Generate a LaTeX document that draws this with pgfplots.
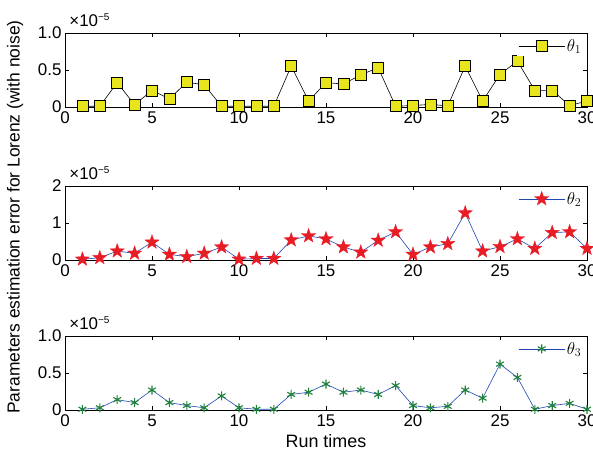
\documentclass[border=0pt]{standalone}
\usepackage{pgfplots}
\pgfplotsset{compat=1.18}
\usepackage{fontspec}
\setmainfont{Liberation Sans}
\definecolor{myyellow}{RGB}{232,228,30}
\definecolor{myred}{RGB}{232,28,36}
\definecolor{mygreen}{RGB}{30,130,60}
\definecolor{myblue}{RGB}{30,70,180}
\pgfdeclareplotmark{pstar}{%
  \pgfpathmoveto{\pgfpointpolar{90}{\pgfplotmarksize}}%
  \pgfpathlineto{\pgfpointpolar{126}{0.40\pgfplotmarksize}}%
  \pgfpathlineto{\pgfpointpolar{162}{\pgfplotmarksize}}%
  \pgfpathlineto{\pgfpointpolar{198}{0.40\pgfplotmarksize}}%
  \pgfpathlineto{\pgfpointpolar{234}{\pgfplotmarksize}}%
  \pgfpathlineto{\pgfpointpolar{270}{0.40\pgfplotmarksize}}%
  \pgfpathlineto{\pgfpointpolar{306}{\pgfplotmarksize}}%
  \pgfpathlineto{\pgfpointpolar{342}{0.40\pgfplotmarksize}}%
  \pgfpathlineto{\pgfpointpolar{18}{\pgfplotmarksize}}%
  \pgfpathlineto{\pgfpointpolar{54}{0.40\pgfplotmarksize}}%
  \pgfpathclose\pgfusepathqfillstroke}
\pgfplotsset{
  every axis/.append style={
    scale only axis, width=522bp, height=74bp,
    xmin=0, xmax=30, ymin=0,
    xtick={0,5,...,30},
    tick align=inside, major tick length=4bp,
    tick style={black, line width=0.5pt},
    axis line style={line width=0.6pt},
    /pgf/number format/assume math mode=true,
    tick label style={font=\fontsize{17}{17}\selectfont},
    xticklabel style={yshift=-1bp},
    legend style={draw=none, fill=white, at={(0.995,0.96)}, anchor=north east,
      font=\fontsize{17}{17}\selectfont, inner sep=1bp},
    legend cell align=left,
    legend image code/.code={\draw[mark repeat=2,mark phase=2] plot coordinates {(0bp,0bp)(23bp,0bp)(46bp,0bp)};},
    clip=false,
  },
}
\newcommand{\scalelabel}{\node[anchor=south west, inner sep=0pt, font=\fontsize{17}{17}\selectfont] at (rel axis cs:0.008,1.08) {×10\textsuperscript{\fontsize{10}{10}\selectfont −5}};}
\begin{document}
\begin{tikzpicture}
\useasboundingbox (-65bp,-47bp) rectangle (528bp,410bp);
% panel 1
\begin{axis}[at={(0,303bp)}, ymax=1, ytick={0,0.5,1}, yticklabels={0,0.5,1.0}]
\addplot[black, line width=0.6pt, mark=square*, mark size=5.5bp, mark options={fill=myyellow, draw=black, line width=0.6pt}]
coordinates {(1,0.01)(2,0.01)(3,0.33)(4,0.03)(5,0.225)(6,0.11)(7,0.335)(8,0.30)(9,0.01)(10,0.01)
(11,0.01)(12,0.01)(13,0.553)(14,0.08)(15,0.33)(16,0.31)(17,0.435)(18,0.53)(19,0.01)(20,0.02)
(21,0.035)(22,0.015)(23,0.553)(24,0.08)(25,0.44)(26,0.62)(27,0.225)(28,0.225)(29,0.02)(30,0.08)};
\addlegendentry{$\theta_1$}
\scalelabel
\end{axis}
% panel 2
\begin{axis}[at={(0,150bp)}, ymax=2, ytick={0,1,2}, yticklabels={0,1,2}]
\addplot[myblue, line width=0.6pt, mark=pstar, mark size=7.5bp, mark options={fill=myred, draw=myred, line width=0.3pt}]
coordinates {(1,0.02)(2,0.06)(3,0.24)(4,0.18)(5,0.48)(6,0.15)(7,0.09)(8,0.18)(9,0.35)(10,0.02)
(11,0.04)(12,0.04)(13,0.54)(14,0.65)(15,0.57)(16,0.35)(17,0.21)(18,0.53)(19,0.76)(20,0.15)
(21,0.35)(22,0.44)(23,1.27)(24,0.24)(25,0.36)(26,0.57)(27,0.31)(28,0.74)(29,0.76)(30,0.31)};
\addlegendentry{$\theta_2$}
\scalelabel
\end{axis}
% panel 3
\begin{axis}[at={(0,0)}, ymax=1, ytick={0,0.5,1}, yticklabels={0,0.5,1.0},
  xlabel={Run times}, xlabel style={font=\fontsize{18}{18}\selectfont, yshift=-1bp}]
\addplot[myblue, line width=0.6pt, mark=asterisk, mark size=4.5bp, mark options={draw=mygreen, line width=1.1pt}]
coordinates {(1,0.01)(2,0.03)(3,0.14)(4,0.10)(5,0.27)(6,0.10)(7,0.06)(8,0.03)(9,0.19)(10,0.03)
(11,0.01)(12,0.01)(13,0.21)(14,0.24)(15,0.35)(16,0.24)(17,0.27)(18,0.21)(19,0.33)(20,0.06)
(21,0.03)(22,0.05)(23,0.27)(24,0.16)(25,0.62)(26,0.44)(27,0.01)(28,0.06)(29,0.09)(30,0.01)};
\addlegendentry{$\theta_3$}
\scalelabel
\end{axis}
\node[rotate=90, font=\fontsize{17.5}{17.5}\selectfont] at (-50bp,193bp) {Parameters estimation error for Lorenz (with noise)};
\end{tikzpicture}
\end{document}
